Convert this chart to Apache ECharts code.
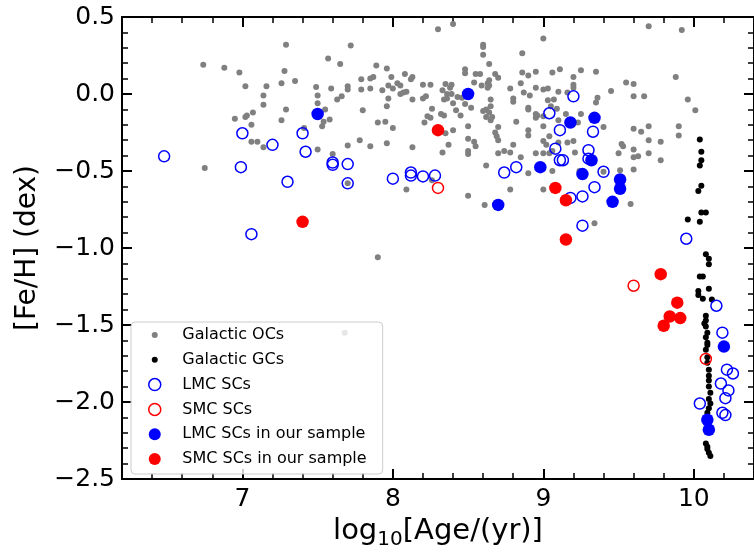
<!DOCTYPE html>
<html>
<head>
<meta charset="utf-8">
<script src="https://cdn.jsdelivr.net/npm/echarts@6/dist/echarts.min.js"></script>
<style>
html, body { margin: 0; padding: 0; background: #fff; }
#main { width: 754px; height: 555px; }
</style>
</head>
<body>
<div id="main"></div>
<script>
// [log10(age), [Fe/H]]
var galacticOCs = [
    [7.29,0.32],[6.74,0.19],[6.88,0.17],[6.98,0.14],[7.28,0.15],[7.57,0.23],[7.02,0.05],[7.16,0.05],
    [7.26,0.07],[7.35,0.085],[7.49,0.045],[7.59,0.035],[7.50,-0.01],[7.14,-0.01],[7.50,-0.06],[7.63,-0.035],
    [7.14,-0.07],[7.29,-0.10],[7.07,-0.12],[7.03,-0.14],[7.02,-0.15],[6.95,-0.16],[7.06,-0.20],[7.26,-0.17],
    [7.55,-0.10],[7.58,-0.165],[7.54,-0.18],[7.53,-0.21],[7.41,-0.22],[7.06,-0.31],[7.10,-0.31],[7.14,-0.345],
    [7.50,-0.36],[7.60,-0.39],[6.75,-0.48],[7.70,-0.58],[8.09,-0.62],[8.26,-0.56],[8.50,-0.66],[8.61,-0.72],
    [8.78,-0.62],[9.00,-0.62],[8.90,-0.515],[7.90,-1.06],[8.40,0.455],[8.30,0.42],[7.72,0.315],[8.60,0.32],
    [8.60,0.305],[8.60,0.255],[8.86,0.265],[9.00,0.36],[7.65,0.195],[7.89,0.185],[7.96,0.165],[8.64,0.195],
    [8.48,0.16],[8.48,0.135],[8.95,0.145],[8.08,0.13],[8.86,0.14],[8.90,0.12],[7.87,0.11],[7.85,0.10],
    [7.99,0.11],[8.13,0.11],[8.12,0.095],[8.55,0.13],[8.58,0.13],[8.68,0.13],[8.70,0.105],[7.79,0.095],
    [8.54,0.075],[8.64,0.09],[8.63,0.07],[8.85,0.07],[7.70,0.05],[7.70,0.03],[7.79,0.03],[7.85,0.035],
    [7.93,0.025],[7.97,0.055],[8.00,0.035],[8.03,0.07],[8.05,0.055],[8.09,0.015],[8.07,0.01],[8.05,0.0],
    [8.20,0.06],[8.25,0.06],[8.35,0.065],[8.39,0.06],[8.38,0.04],[8.33,0.025],[8.36,0.0],[8.39,0.0],
    [8.43,-0.02],[8.59,0.055],[8.63,0.04],[8.64,0.055],[8.78,0.035],[8.87,0.01],[8.91,-0.01],[8.95,0.04],
    [7.66,-0.015],[7.97,-0.03],[7.96,-0.08],[8.20,-0.03],[8.22,-0.015],[8.13,-0.035],[8.34,-0.035],[8.36,-0.03],
    [8.40,-0.06],[8.46,-0.025],[8.48,-0.065],[8.52,-0.09],[8.65,-0.035],[8.65,-0.08],[8.62,-0.10],[8.60,-0.11],
    [8.64,-0.12],[8.62,-0.15],[8.66,-0.15],[8.65,-0.17],[8.80,-0.03],[8.80,-0.05],[8.90,-0.09],[8.90,-0.10],
    [8.96,-0.14],[8.95,-0.155],[7.80,-0.105],[8.23,-0.145],[8.25,-0.155],[8.21,-0.185],[8.32,-0.13],[8.34,-0.14],
    [8.42,-0.105],[8.45,-0.14],[8.26,-0.095],[8.50,-0.21],[8.40,-0.235],[8.35,-0.255],[7.90,-0.185],[7.95,-0.18],
    [8.00,-0.22],[8.70,-0.215],[8.68,-0.25],[8.69,-0.275],[8.70,-0.30],[8.82,-0.18],[8.90,-0.235],[8.90,-0.27],
    [7.78,-0.30],[7.85,-0.34],[7.96,-0.32],[7.70,-0.335],[8.13,-0.345],[8.37,-0.33],[8.50,-0.29],[8.54,-0.31],
    [8.55,-0.34],[8.50,-0.37],[8.50,-0.39],[8.33,-0.38],[8.70,-0.385],[8.74,-0.37],[8.78,-0.38],[8.80,-0.33],
    [8.85,-0.41],[8.95,-0.385],[8.62,-0.465],[9.70,0.44],[9.92,0.415],[9.06,0.14],[9.11,0.16],[9.25,0.155],
    [9.35,0.145],[9.20,0.11],[9.20,0.06],[9.20,0.04],[9.88,0.11],[9.55,0.075],[9.60,0.065],[9.45,0.02],
    [9.00,0.03],[9.03,0.035],[9.10,0.015],[9.16,0.01],[9.36,-0.025],[9.35,-0.055],[9.60,-0.015],[9.67,-0.015],
    [9.96,-0.035],[10.01,-0.105],[9.03,-0.04],[9.07,-0.035],[9.05,-0.08],[9.09,-0.095],[8.95,-0.13],[9.00,-0.145],
    [9.00,-0.21],[9.10,-0.17],[9.15,-0.13],[9.25,-0.13],[9.23,-0.185],[9.40,-0.215],[9.60,-0.225],[9.65,-0.245],
    [9.70,-0.21],[9.90,-0.21],[9.90,-0.27],[9.70,-0.30],[9.78,-0.31],[9.52,-0.325],[9.53,-0.34],[9.60,-0.36],
    [9.60,-0.41],[9.63,-0.405],[9.50,-0.385],[9.70,-0.385],[9.78,-0.43],[9.00,-0.305],[9.04,-0.275],[9.02,-0.33],
    [9.00,-0.385],[9.04,-0.385],[9.06,-0.37],[9.10,-0.315],[9.16,-0.315],[9.20,-0.305],[9.21,-0.38],[9.24,-0.50],
    [9.06,-0.50],[9.40,-0.505],[9.51,-0.495],[9.60,-0.49],[9.58,-0.715],[9.34,-0.84],[7.68,-1.55]
];

var galacticGCs = [
    [10.04,-0.295],[10.05,-0.375],[10.05,-0.43],[10.04,-0.465],[10.05,-0.595],[10.03,-0.63],[10.05,-0.77],
    [10.08,-0.77],[9.96,-0.815],[10.04,-0.83],[10.08,-1.04],[10.10,-1.07],[10.10,-1.105],[10.04,-1.185],
    [10.06,-1.185],[10.10,-1.265],[10.03,-1.28],[10.03,-1.305],[10.06,-1.33],[10.12,-1.335],[10.08,-1.44],
    [10.08,-1.47],[10.07,-1.49],[10.08,-1.51],[10.09,-1.55],[10.08,-1.58],[10.09,-1.615],[10.09,-1.63],
    [10.08,-1.66],[10.09,-1.71],[10.09,-1.745],[10.10,-1.79],[10.10,-1.83],[10.10,-1.86],[10.10,-1.90],
    [10.11,-1.94],[10.10,-1.98],[10.11,-2.01],[10.10,-2.04],[10.09,-2.07],[10.09,-2.12],[10.08,-2.27],
    [10.09,-2.29],[10.09,-2.305],[10.10,-2.33],[10.11,-2.35]
];

var lmcSCs = [
    [6.48,-0.405],[7.00,-0.255],[7.20,-0.33],[7.40,-0.255],[7.42,-0.375],[6.99,-0.475],[7.60,-0.445],
    [7.60,-0.46],[7.70,-0.455],[7.30,-0.57],[7.70,-0.58],[7.06,-0.91],[8.00,-0.55],[8.12,-0.51],[8.12,-0.53],
    [8.20,-0.535],[8.28,-0.53],[8.74,-0.51],[8.82,-0.475],[9.04,-0.125],[9.20,-0.015],[9.11,-0.235],
    [9.33,-0.245],[9.08,-0.355],[9.11,-0.43],[9.13,-0.43],[9.30,-0.365],[9.30,-0.42],[9.40,-0.505],
    [9.18,-0.675],[9.26,-0.665],[9.34,-0.605],[9.26,-0.855],[9.95,-0.94],[10.15,-1.375],[10.04,-2.01],
    [10.19,-1.55],[10.22,-1.79],[10.26,-1.815],[10.18,-1.88],[10.23,-1.925],[10.21,-1.975],[10.19,-2.07],
    [10.21,-2.085]
];

var smcSCs = [
    [8.30,-0.61],[9.60,-1.245],[10.08,-1.72]
];

var lmcSample = [
    [7.50,-0.13],[8.50,0.0],[8.70,-0.72],[8.98,-0.475],[9.18,-0.185],[9.34,-0.155],[9.26,-0.52],
    [9.32,-0.43],[9.51,-0.555],[9.51,-0.615],[9.46,-0.70],[10.09,-2.115],[10.10,-2.18],[10.20,-1.64]
];

var smcSample = [
    [7.40,-0.83],[8.30,-0.235],[9.08,-0.61],[9.15,-0.69],[9.15,-0.945],[9.78,-1.17],[9.89,-1.355],
    [9.84,-1.445],[9.91,-1.455],[9.80,-1.505]
];

var xMajorTicks = [7, 8, 9, 10];
var xMinorTicks = [6.4, 6.6, 6.8, 7.2, 7.4, 7.6, 7.8, 8.2, 8.4, 8.6, 8.8, 9.2, 9.4, 9.6, 9.8, 10.2];

var FONT = 'DejaVu Sans';
// small dot for the legend: two bare moveTo points widen the box so the circle stays small
var smallDot = 'path://M0,0M12,12M3,6A3,3,0,1,0,9,6A3,3,0,1,0,3,6Z';

paintChart();

function paintChart() {
    var chart = echarts.init(document.getElementById('main'), null, {renderer: 'canvas'});

    function xAxisPart(pos, ticks, len, width, withLine, withLabel) {
        return {
            type: 'value', position: pos, min: 6.2, max: 10.4,
            axisLine: {show: withLine, onZero: false, lineStyle: {color: '#000', width: 2}},
            axisTick: {show: true, inside: true, length: len, customValues: ticks,
                lineStyle: {color: '#000', width: width}},
            axisLabel: withLabel ? {show: true, customValues: ticks, margin: 8, color: '#000',
                fontSize: 25, fontFamily: FONT} : {show: false},
            splitLine: {show: false}
        };
    }

    function yAxisPart(pos, withLabel) {
        return {
            type: 'value', position: pos, min: -2.5, max: 0.5, interval: 0.5,
            axisLine: {show: true, onZero: false, lineStyle: {color: '#000', width: 2}},
            axisTick: {show: true, inside: true, length: 10, lineStyle: {color: '#000', width: 2}},
            minorTick: {show: true, splitNumber: 5, length: 6, lineStyle: {color: '#000', width: 1.5}},
            axisLabel: withLabel ? {
                show: true, margin: 7, color: '#000', fontSize: 25, fontFamily: FONT,
                formatter: function (v) { return (v < 0 ? '\u2212' : '') + Math.abs(v).toFixed(1); }
            } : {show: false},
            splitLine: {show: false},
            minorSplitLine: {show: false}
        };
    }

    var xBottom = xAxisPart('bottom', xMajorTicks, 10, 2, true, true);
    xBottom.name = '{n|log}{s|10}{n|[Age/(yr)]}';
    xBottom.nameLocation = 'middle';
    xBottom.nameGap = 32;
    xBottom.nameTextStyle = {
        color: '#000', fontFamily: FONT, fontSize: 29,
        rich: {
            n: {fontSize: 29, fontFamily: FONT, color: '#000', lineHeight: 35, verticalAlign: 'bottom'},
            s: {fontSize: 20, fontFamily: FONT, color: '#000', lineHeight: 20, verticalAlign: 'bottom', padding: [0, 0, -4, 0]}
        }
    };

    var yLeft = yAxisPart('left', true);
    yLeft.name = '[Fe/H] (dex)';
    yLeft.nameLocation = 'middle';
    yLeft.nameRotate = 90;
    yLeft.nameGap = 80;
    yLeft.nameTextStyle = {color: '#000', fontFamily: FONT, fontSize: 28};

    var option = {
        backgroundColor: '#fff',
        animation: false,
        grid: {left: 122, top: 17, width: 636, height: 465},
        xAxis: [
            xBottom,
            xAxisPart('bottom', xMinorTicks, 6, 1.5, false, false),
            xAxisPart('top', xMajorTicks, 10, 2, true, false),
            xAxisPart('top', xMinorTicks, 6, 1.5, false, false)
        ],
        yAxis: [yLeft, yAxisPart('right', false)],
        legend: {
            orient: 'vertical',
            left: 131, top: 322,
            padding: [5, 16, 7, 17],
            itemWidth: 45, itemHeight: 12, itemGap: 8.8,
            backgroundColor: 'rgba(255,255,255,0.8)',
            borderColor: '#cccccc', borderWidth: 1, borderRadius: 4,
            textStyle: {color: '#000', fontFamily: FONT, fontSize: 16, lineHeight: 16},
            data: [
                {name: 'Galactic OCs', icon: smallDot},
                {name: 'Galactic GCs', icon: smallDot},
                {name: 'LMC SCs', icon: 'circle', itemStyle: {borderWidth: 1.5}},
                {name: 'SMC SCs', icon: 'circle', itemStyle: {borderWidth: 1.5}},
                {name: 'LMC SCs in our sample', icon: 'circle'},
                {name: 'SMC SCs in our sample', icon: 'circle'}
            ]
        },
        series: [
            {name: 'Galactic OCs', type: 'scatter', data: galacticOCs, symbol: 'circle', symbolSize: 6,
                itemStyle: {color: '#808080', opacity: 1}},
            {name: 'Galactic GCs', type: 'scatter', data: galacticGCs, symbol: 'circle', symbolSize: 6,
                itemStyle: {color: '#000000', opacity: 1}},
            {name: 'LMC SCs', type: 'scatter', data: lmcSCs, symbol: 'circle', symbolSize: 11,
                itemStyle: {color: 'rgba(0,0,0,0)', borderColor: '#0000ff', borderWidth: 1.5, opacity: 1}},
            {name: 'SMC SCs', type: 'scatter', data: smcSCs, symbol: 'circle', symbolSize: 11,
                itemStyle: {color: 'rgba(0,0,0,0)', borderColor: '#ff0000', borderWidth: 1.5, opacity: 1}},
            {name: 'LMC SCs in our sample', type: 'scatter', data: lmcSample, symbol: 'circle', symbolSize: 12.5,
                itemStyle: {color: '#0000ff', opacity: 1}},
            {name: 'SMC SCs in our sample', type: 'scatter', data: smcSample, symbol: 'circle', symbolSize: 12.5,
                itemStyle: {color: '#ff0000', opacity: 1}}
        ]
    };
    chart.setOption(option);
}
</script>
</body>
</html>
